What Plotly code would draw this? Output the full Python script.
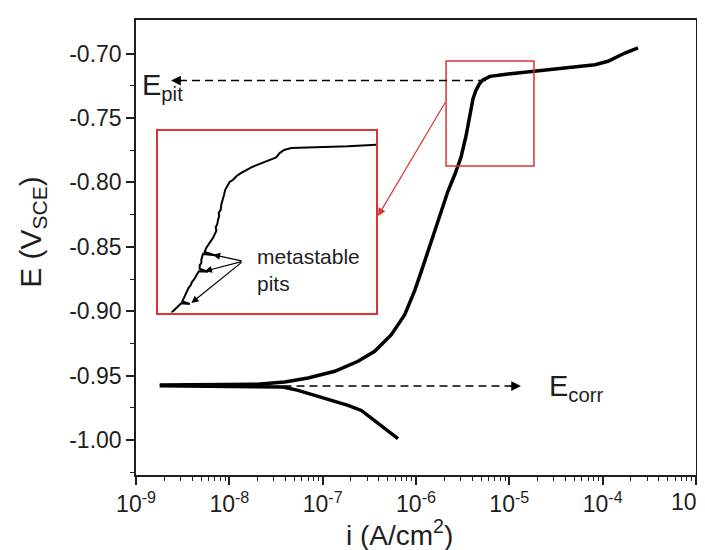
import plotly.graph_objects as go

# ---------------- data (log10 of current density, potential) ----------------
anodic_logi = [-8.746, -8.3, -8.0, -7.7, -7.407, -7.157, -6.871, -6.621, -6.443, -6.264,
               -6.121, -6.014, -5.943, -5.836, -5.746, -5.657, -5.582, -5.518, -5.464,
               -5.421, -5.389, -5.357, -5.320, -5.282, -5.207, -5.014, -4.725, -4.403,
               -4.082, -3.943, -3.761, -3.621]
anodic_E = [-0.9572, -0.9571, -0.9570, -0.9566, -0.9548, -0.9517, -0.9465, -0.9388, -0.9310,
            -0.9181, -0.9026, -0.8840, -0.8690, -0.8450, -0.8250, -0.8067, -0.7935, -0.7805,
            -0.7640, -0.7480, -0.7350, -0.7285, -0.7235, -0.7205, -0.7177, -0.7159, -0.7138,
            -0.7112, -0.7087, -0.7060, -0.6996, -0.6957]

cathodic_logi = [-8.746, -8.3, -8.0, -7.7, -7.425, -7.264, -7.014, -6.728, -6.586, -6.443,
                 -6.300, -6.193]
cathodic_E = [-0.9578, -0.9580, -0.9581, -0.9583, -0.9587, -0.9613, -0.9665, -0.9730,
              -0.9769, -0.9846, -0.9924, -0.9988]

inset_logi = [-5.621, -5.606, -5.592, -5.580, -5.578, -5.541, -5.573, -5.566, -5.560, -5.552,
              -5.546, -5.537, -5.531, -5.523, -5.515, -5.508, -5.502, -5.462, -5.498, -5.498,
              -5.491, -5.491, -5.487, -5.484, -5.433, -5.477, -5.470, -5.462, -5.451, -5.441,
              -5.433, -5.426, -5.429, -5.422, -5.419, -5.414, -5.416, -5.407, -5.405, -5.402,
              -5.396, -5.393, -5.388, -5.379, -5.369, -5.354, -5.340, -5.319, -5.297, -5.275,
              -5.247, -5.218, -5.189, -5.168, -5.153, -5.134, -5.103, -5.002, -4.858, -4.736]
inset_E = [-0.7875, -0.7860, -0.7849, -0.7837, -0.7831, -0.7834, -0.7822, -0.7807, -0.7793,
           -0.7777, -0.7762, -0.7750, -0.7735, -0.7725, -0.7714, -0.7699, -0.7687, -0.7690,
           -0.7676, -0.7660, -0.7650, -0.7635, -0.7620, -0.7610, -0.7615, -0.7601, -0.7583,
           -0.7568, -0.7553, -0.7538, -0.7520, -0.7505, -0.7490, -0.7475, -0.7455, -0.7440,
           -0.7425, -0.7410, -0.7388, -0.7373, -0.7358, -0.7343, -0.7321, -0.7301, -0.7286,
           -0.7276, -0.7260, -0.7245, -0.7231, -0.7220, -0.7208, -0.7196, -0.7186, -0.7175,
           -0.7156, -0.7142, -0.7133, -0.7130, -0.7125, -0.7118]

x_tick_exp = [-9, -8, -7, -6, -5, -4, -3]
x_tick_text = ["10<sup>%d</sup>" % e for e in x_tick_exp]
y_tick_vals = [-1.00, -0.95, -0.90, -0.85, -0.80, -0.75, -0.70]
y_tick_text = ["-1.00", "-0.95", "-0.90", "-0.85", "-0.80", "-0.75", "-0.70"]
y_minor_vals = [-1.025, -0.975, -0.925, -0.875, -0.825, -0.775, -0.725]

x_range_log = [-9.0005, -2.9995]
y_range = [-1.027, -0.674]

E_pit = -0.721
E_corr = -0.958
pit_line_logi = [-5.25, -8.625]      # dashed E_pit arrow: start, tip
corr_line_logi = [-7.42, -4.875]     # dashed E_corr arrow: start, tip
zoom_box_logi = [-5.678, -4.736]
zoom_box_E = [-0.7873, -0.7058]
red_arrow_tail = (-5.678, -0.7368)
red_arrow_head = (-6.407, -0.826)
pit_arrow_tail = (-5.311, -0.7642)
pit_arrow_heads = [(-5.441, -0.7613), (-5.4765, -0.7687), (-5.534, -0.7830)]

FONT = "Arial, Liberation Sans, sans-serif"
RED = "#dc3434"
INK = "#1e1e1e"

# last tick label is drawn as an annotation so that it stays inside the page
tick_text_shown = x_tick_text[:-1] + [""]

fig = go.Figure()
fig.add_trace(go.Scatter(x=[10 ** v for v in anodic_logi], y=anodic_E, mode="lines",
                         line=dict(color="black", width=3.5), showlegend=False))
fig.add_trace(go.Scatter(x=[10 ** v for v in cathodic_logi], y=cathodic_E, mode="lines",
                         line=dict(color="black", width=3.5), showlegend=False))
fig.add_trace(go.Scatter(x=[10 ** v for v in inset_logi], y=inset_E, mode="lines",
                         line=dict(color="black", width=2), showlegend=False,
                         xaxis="x2", yaxis="y2"))

# zoom box
fig.add_shape(type="rect", xref="x", yref="y",
              x0=10 ** zoom_box_logi[0], x1=10 ** zoom_box_logi[1],
              y0=zoom_box_E[0], y1=zoom_box_E[1], line=dict(color=RED, width=1.5))

# dashed lines
fig.add_shape(type="line", xref="x", yref="y",
              x0=10 ** pit_line_logi[0], x1=10 ** (pit_line_logi[1] + 0.08), y0=E_pit, y1=E_pit,
              line=dict(color="black", width=1.5, dash="8px,5px"))
fig.add_shape(type="line", xref="x", yref="y",
              x0=10 ** corr_line_logi[0], x1=10 ** (corr_line_logi[1] - 0.08), y0=E_corr, y1=E_corr,
              line=dict(color="black", width=1.5, dash="8px,5px"))

ann = []
ann.append(dict(x=pit_line_logi[1], y=E_pit, xref="x", yref="y", ax=12, ay=0,
                showarrow=True, arrowhead=2, arrowsize=1.3, arrowwidth=1.5, arrowcolor="black", text=""))
ann.append(dict(x=corr_line_logi[1], y=E_corr, xref="x", yref="y", ax=-12, ay=0,
                showarrow=True, arrowhead=2, arrowsize=1.3, arrowwidth=1.5, arrowcolor="black", text=""))
ann.append(dict(x=-8.893, y=E_pit, xref="x", yref="y", xanchor="left", yanchor="middle",
                xshift=-6, yshift=-6, showarrow=False, text="E<sub>pit</sub>",
                font=dict(family=FONT, size=29, color=INK)))
ann.append(dict(x=-4.553, y=E_corr, xref="x", yref="y", xanchor="left", yanchor="middle",
                xshift=-4, yshift=-2, showarrow=False, text="E<sub>corr</sub>",
                font=dict(family=FONT, size=29, color=INK)))
ann.append(dict(x=red_arrow_head[0], y=red_arrow_head[1], xref="x", yref="y",
                ax=red_arrow_tail[0], ay=red_arrow_tail[1], axref="x", ayref="y",
                showarrow=True, arrowhead=2, arrowsize=1.3, arrowwidth=1.2, arrowcolor=RED, text=""))
for hx, hy in pit_arrow_heads:
    ann.append(dict(x=hx, y=hy, xref="x2", yref="y2", ax=pit_arrow_tail[0], ay=pit_arrow_tail[1],
                    axref="x2", ayref="y2", showarrow=True, arrowhead=2, arrowsize=1.2,
                    arrowwidth=1.2, arrowcolor="black", text=""))
ann.append(dict(x=-5.261, y=-0.7681, xref="x2", yref="y2", xanchor="left", yanchor="middle",
                showarrow=False, align="left", text="metastable<br>pits",
                font=dict(family=FONT, size=21, color=INK)))
# last x tick label
ann.append(dict(x=x_tick_exp[-1], y=0, xref="x", yref="paper", xanchor="left", yanchor="top",
                xshift=-27, yshift=-8, showarrow=False, text=x_tick_text[-1],
                font=dict(family=FONT, size=23, color=INK)))
# axis titles
ann.append(dict(x=0.470, y=-0.1275, xref="paper", yref="paper", xanchor="center", yanchor="middle",
                showarrow=False, text="i (A/cm<sup>2</sup>)", font=dict(family=FONT, size=28, color=INK)))
ann.append(dict(x=-0.186, y=0.534, xref="paper", yref="paper", xanchor="center", yanchor="middle",
                showarrow=False, textangle=-90, text="E (V<sub>SCE</sub>)",
                font=dict(family=FONT, size=30, color=INK)))

fig.update_layout(
    width=705, height=550,
    margin=dict(l=128, r=17, t=12, b=83, autoexpand=False),
    paper_bgcolor="white", plot_bgcolor="white",
    font=dict(family=FONT, color=INK),
    annotations=ann,
    xaxis=dict(type="log", range=x_range_log, automargin=False,
               tickmode="array", tickvals=[10 ** e for e in x_tick_exp], ticktext=tick_text_shown,
               ticks="outside", ticklen=8, tickwidth=1.5, tickcolor=INK,
               minor=dict(tickmode="array",
                          tickvals=[m * 10 ** e for e in range(-9, -3) for m in range(2, 10)],
                          ticks="outside", ticklen=4, tickwidth=1.2, tickcolor=INK, showgrid=False),
               showline=True, linecolor=INK, linewidth=1.5, mirror=True,
               showgrid=False, zeroline=False,
               tickfont=dict(family=FONT, size=23, color=INK)),
    yaxis=dict(range=y_range, tickmode="array", tickvals=y_tick_vals, ticktext=y_tick_text,
               automargin=False,
               ticks="outside", ticklen=8, tickwidth=1.5, tickcolor=INK,
               minor=dict(tickmode="array", tickvals=y_minor_vals, ticks="outside", ticklen=4,
                          tickwidth=1.2, tickcolor=INK, showgrid=False),
               showline=True, linecolor=INK, linewidth=1.5, mirror=True,
               showgrid=False, zeroline=False,
               tickfont=dict(family=FONT, size=23, color=INK)),
    xaxis2=dict(type="log", range=zoom_box_logi, domain=[0.0393, 0.4291], anchor="y2",
                showline=True, mirror=True, linecolor=RED, linewidth=1.5,
                showticklabels=False, ticks="", showgrid=False, zeroline=False),
    yaxis2=dict(range=zoom_box_E, domain=[0.357, 0.7554], anchor="x2",
                showline=True, mirror=True, linecolor=RED, linewidth=1.5,
                showticklabels=False, ticks="", showgrid=False, zeroline=False),
)

fig.write_html("out.html")
